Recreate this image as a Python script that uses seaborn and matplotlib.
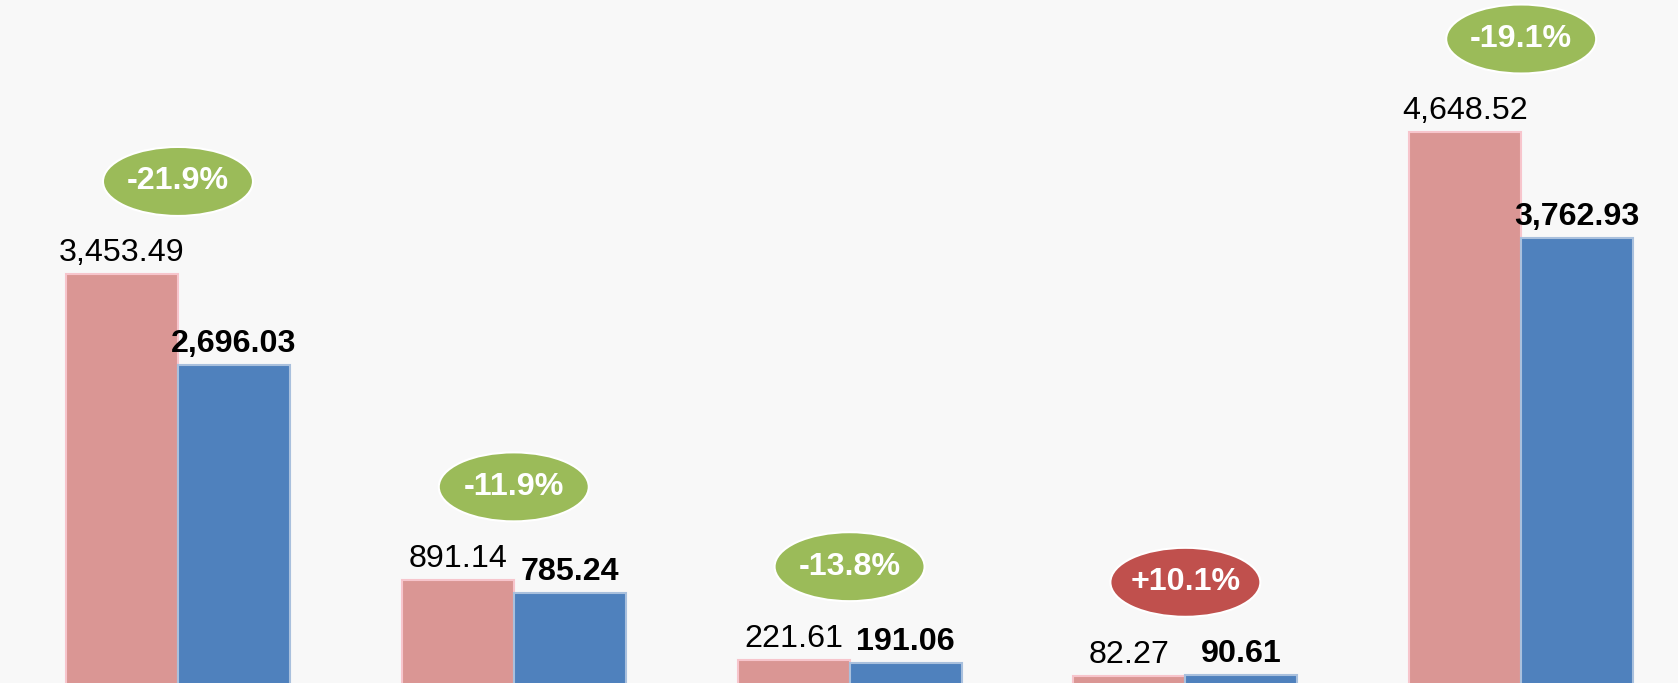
import matplotlib
matplotlib.use("Agg")
import matplotlib.pyplot as plt
import matplotlib.transforms as mtransforms
from matplotlib.patches import Ellipse
import seaborn as sns
import pandas as pd

categories = ["Group 1", "Group 2", "Group 3", "Group 4", "Group 5"]
previous = [3453.49, 891.14, 221.61, 82.27, 4648.52]
current = [2696.03, 785.24, 191.06, 90.61, 3762.93]
series_names = ["Previous", "Current"]

df = pd.DataFrame({
    "category": categories * 2,
    "series": [series_names[0]] * len(categories) + [series_names[1]] * len(categories),
    "value": previous + current,
})

sns.set_theme(style="white")
plt.rcParams["font.family"] = ["Liberation Sans", "DejaVu Sans"]

BG = "#f8f8f8"
PINK = "#da9694"
BLUE = "#4f81bd"
GREEN = "#9bbb59"
RED = "#c0504d"

fig = plt.figure(figsize=(16.78, 6.83), dpi=100, facecolor=BG)
ax = fig.add_axes([0, 0, 1, 1])
ax.set_facecolor(BG)

sns.barplot(data=df, x="category", y="value", hue="series", order=categories,
            hue_order=series_names, palette=[PINK, BLUE], width=0.667, gap=0,
            legend=False, ax=ax, errorbar=None, saturation=1)

for i, patch in enumerate(ax.patches):
    if i < len(categories):
        patch.set_edgecolor("#f7c5cc")
    else:
        patch.set_edgecolor("#a9c0dd")
    patch.set_linewidth(1.5)

ax.set_xlim(-0.53, 4.467)
ax.set_ylim(26, 5756)
ax.set_xlabel("")
ax.set_ylabel("")
ax.set_xticks([])
ax.set_yticks([])
for s in ax.spines.values():
    s.set_visible(False)

fs = 23.2
half = 0.667 / 4
for i, (p, c) in enumerate(zip(previous, current)):
    ax.annotate(f"{p:,.2f}", xy=(i - half, p), xytext=(0, 13), textcoords="offset pixels",
                ha="center", va="baseline", fontsize=fs, color="black")
    ax.annotate(f"{c:,.2f}", xy=(i + half, c), xytext=(0, 13), textcoords="offset pixels",
                ha="center", va="baseline", fontsize=fs, color="black", fontweight="bold")
    change = (c - p) / p * 100
    col = GREEN if change < 0 else RED
    top = max(p, c)
    tr = mtransforms.Affine2D().translate(0, 93) + mtransforms.ScaledTranslation(i, top, ax.transData)
    el = Ellipse((0, 0), 150, 69, facecolor=col, edgecolor="white", linewidth=1.5,
                 transform=tr, clip_on=False)
    ax.add_artist(el)
    ax.annotate(f"{change:+.1f}%", xy=(i, top), xytext=(0, 93), textcoords="offset pixels",
                ha="center", va="center", fontsize=fs, color="white", fontweight="bold")

fig.savefig("out.png", dpi=100, facecolor=BG)
